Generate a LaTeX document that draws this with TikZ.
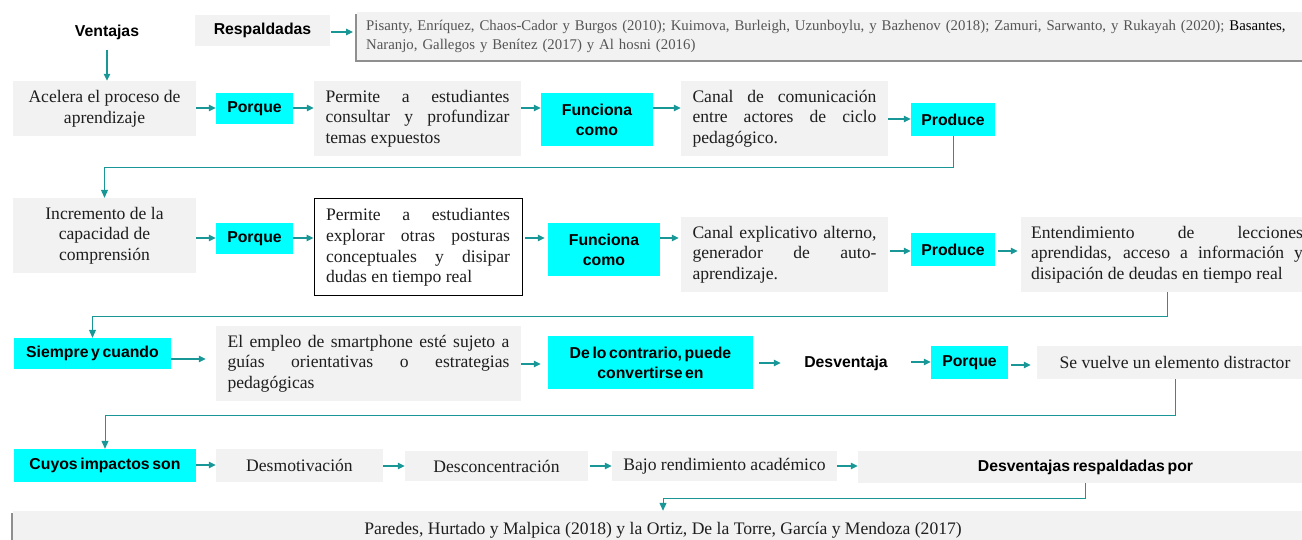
\documentclass[tikz,border=0pt]{standalone}
\usepackage{fontspec}
\setmainfont{Liberation Serif}
\newfontfamily\hdfont[WordSpace=0.6]{Liberation Sans}
\usetikzlibrary{arrows.meta,shadows}
\definecolor{teal1}{RGB}{25,150,150}
\definecolor{gbg}{RGB}{242,242,242}
\definecolor{cy}{RGB}{0,255,255}
\definecolor{txt}{RGB}{30,30,30}
\definecolor{citc}{RGB}{85,85,85}
\hbadness=10000
\hyphenpenalty=10000
\exhyphenpenalty=10000
\tikzset{
  tm/.style={font=\fontsize{17.6pt}{20.6pt}\selectfont, text=txt},
  hd/.style={font=\hdfont\bfseries\fontsize{15.8pt}{20pt}\selectfont, text=black},
  gbox/.style={fill=gbg, inner sep=0pt, tm, align=center},
  cbox/.style={fill=cy, inner sep=0pt, hd, align=center},
  jbox/.style={gbox, text width=#1, align=justify},
  arr/.style={draw=teal1, line width=1.2pt, -{Triangle[length=7pt,width=6.5pt]}},
  conn/.style={draw=teal1, line width=1pt, -{Triangle[length=8pt,width=7pt]}},
  shad/.style={drop shadow={shadow xshift=-2.5pt, shadow yshift=-2pt, fill=black!55, opacity=0.8}},
}
\begin{document}
\begin{tikzpicture}[x=1pt,y=-1pt]
\useasboundingbox (0,0) rectangle (1302,540);
\clip (0,0) rectangle (1302,540);
% row 0
\node[hd] (vent) at (107,32) {Ventajas};
\node[gbox, hd, minimum width=135pt, minimum height=31pt] (resp) at (262.5,30.5) {Respaldadas};
\node[gbox, shad, minimum height=48pt, text width=1000pt, inner xsep=9pt, align=left,
      font=\fontsize{14.8pt}{19pt}\selectfont, text=citc, anchor=west] (cit) at (357,36)
  {Pisanty, Enríquez, Chaos-Cador y Burgos (2010); Kuimova, Burleigh, Uzunboylu, y Bazhenov (2018); Zamuri, Sarwanto, y Rukayah (2020); \textcolor{black}{Basantes,}\\
   Naranjo, Gallegos y Benítez (2017) y Al hosni (2016)};
% row 1
\node[gbox, minimum width=183pt, minimum height=55pt] (acel) at (104.5,108.5) {Acelera el proceso de\\aprendizaje};
\node[cbox, minimum width=77pt, minimum height=31pt] (por1) at (254.5,108.5) {Porque};
\node[jbox=184pt, minimum width=207pt, minimum height=75pt] (perm1) at (417.5,118.5)
  {Permite a estudiantes\linebreak consultar y profundizar\linebreak temas expuestos};
\node[cbox, minimum width=112pt, minimum height=53pt] (fun1) at (597,119.5) {Funciona\\como};
\node[jbox=184pt, minimum width=207pt, minimum height=75pt] (canal1) at (784.5,118.5)
  {Canal de comunicación\linebreak entre actores de ciclo\linebreak pedagógico.};
\node[cbox, minimum width=84pt, minimum height=33pt] (prod1) at (953,119.5) {Produce};
% row 2
\node[gbox, minimum width=183pt, minimum height=75pt] (incr) at (104.5,235.5) {Incremento de la\\capacidad de\\comprensión};
\node[cbox, minimum width=77pt, minimum height=31pt] (por2) at (254.5,238.5) {Porque};
\node[jbox=184pt, fill=white, draw=black, line width=1pt, minimum width=208pt, minimum height=97pt] (perm2) at (418,247.5)
  {Permite a estudiantes\linebreak explorar otras posturas\linebreak conceptuales y disipar\linebreak dudas en tiempo real};
\node[cbox, minimum width=112pt, minimum height=53pt] (fun2) at (604,249.5) {Funciona\\como};
\node[jbox=184pt, minimum width=207pt, minimum height=75pt] (canal2) at (784.5,254.5)
  {Canal explicativo alterno,\linebreak generador de auto-\linebreak aprendizaje.};
\node[cbox, minimum width=84pt, minimum height=33pt] (prod2) at (953,249.5) {Produce};
\node[jbox=272pt, minimum width=292pt, minimum height=75pt] (ent) at (1167,254.5)
  {Entendimiento de lecciones\linebreak aprendidas, acceso a información y\linebreak disipación de deudas en tiempo real};
% row 3
\node[cbox, minimum width=157pt, minimum height=31pt] (siem) at (92.5,353.5) {Siempre y cuando};
\node[jbox=282pt, minimum width=305pt, minimum height=75pt] (emp) at (368.5,363.5)
  {El empleo de smartphone esté sujeto a\linebreak guías orientativas o estrategias\linebreak pedagógicas};
\node[cbox, minimum width=205pt, minimum height=53pt] (delo) at (650.5,362.5) {De lo contrario, puede\\convertirse en};
\node[hd, minimum width=130pt, inner sep=0pt] (desv) at (846,363) {Desventaja};
\node[cbox, minimum width=77pt, minimum height=33pt] (por3) at (969.5,362.5) {Porque};
\node[gbox, minimum width=276pt, minimum height=33pt] (sev) at (1175,362.5) {Se vuelve un elemento distractor};
% row 4
\node[cbox, minimum width=182pt, minimum height=33pt] (cuy) at (105,465.5) {Cuyos impactos son};
\node[gbox, minimum width=167pt, minimum height=33pt] (dmot) at (299.5,465.5) {Desmotivación};
\node[gbox, minimum width=183pt, minimum height=30pt] (dcon) at (496.5,466) {Desconcentración};
\node[gbox, minimum width=225pt, minimum height=30pt] (bajo) at (724.5,466) {Bajo rendimiento académico};
\node[gbox, hd, minimum width=455pt, minimum height=32pt] (dres) at (1085.5,467) {Desventajas respaldadas por};
% row 5
\node[gbox, shad, minimum width=1300pt, minimum height=38pt] (bot) at (663,530)
  {Paredes, Hurtado y Malpica (2018) y la Ortiz, De la Torre, García y Mendoza (2017)};
% arrows row 0
\draw[arr] (vent.south |- 0,50) -- (vent.south |- acel.north);
\draw[arr] ([xshift=1pt]resp.east |- 0,32) -- ([xshift=-4pt]cit.west |- 0,32);
% row 1
\draw[arr] (acel.east |- 0,108) -- (por1.west |- 0,108);
\draw[arr] (por1.east |- 0,108) -- (perm1.west |- 0,108);
\draw[arr] (perm1.east |- 0,108) -- (fun1.west |- 0,108);
\draw[arr] (fun1.east |- 0,108) -- (canal1.west |- 0,108);
\draw[arr] (canal1.east |- 0,119) -- (prod1.west |- 0,119);
\draw[conn] (prod1.south) -- (prod1.south |- 0,168) -- (incr.north |- 0,168) -- (incr.north);
% row 2
\draw[arr] (incr.east |- 0,238) -- (por2.west |- 0,238);
\draw[arr] (por2.east |- 0,238) -- (perm2.west |- 0,238);
\draw[arr] ([xshift=2pt]perm2.east |- 0,238) -- ([xshift=-3pt]fun2.west |- 0,238);
\draw[arr] (fun2.east |- 0,238) -- ([xshift=-2pt]canal2.west |- 0,238);
\draw[arr] ([xshift=2pt]canal2.east |- 0,251) -- (prod2.west |- 0,251);
\draw[arr] ([xshift=3pt]prod2.east |- 0,251) -- ([xshift=-3pt]ent.west |- 0,251);
\draw[conn] (ent.south) -- (ent.south |- 0,316) -- (siem.north |- 0,316) -- (siem.north);
% row 3
\draw[arr] (siem.east |- 0,359) -- ([xshift=-10pt]emp.west |- 0,359);
\draw[arr] (emp.east |- 0,364) -- ([xshift=-7pt]delo.west |- 0,364);
\draw[arr] ([xshift=6pt]delo.east |- 0,363) -- (desv.west |- 0,363);
\draw[arr] (desv.east |- 0,362) -- (por3.west |- 0,362);
\draw[arr] ([xshift=3pt]por3.east |- 0,365) -- ([xshift=-6pt]sev.west |- 0,365);
\draw[conn] (sev.south) -- (sev.south |- 0,415) -- (cuy.north |- 0,415) -- (cuy.north);
% row 4
\draw[arr] (cuy.east |- 0,465) -- (dmot.west |- 0,465);
\draw[arr] (dmot.east |- 0,466) -- (dcon.west |- 0,466);
\draw[arr] ([xshift=2pt]dcon.east |- 0,466) -- (bajo.west |- 0,466);
\draw[arr] (bajo.east |- 0,466) -- (dres.west |- 0,466);
\draw[conn] (dres.south) -- (dres.south |- 0,498) -- (bot.north |- 0,498) -- (bot.north);
\end{tikzpicture}
\end{document}
